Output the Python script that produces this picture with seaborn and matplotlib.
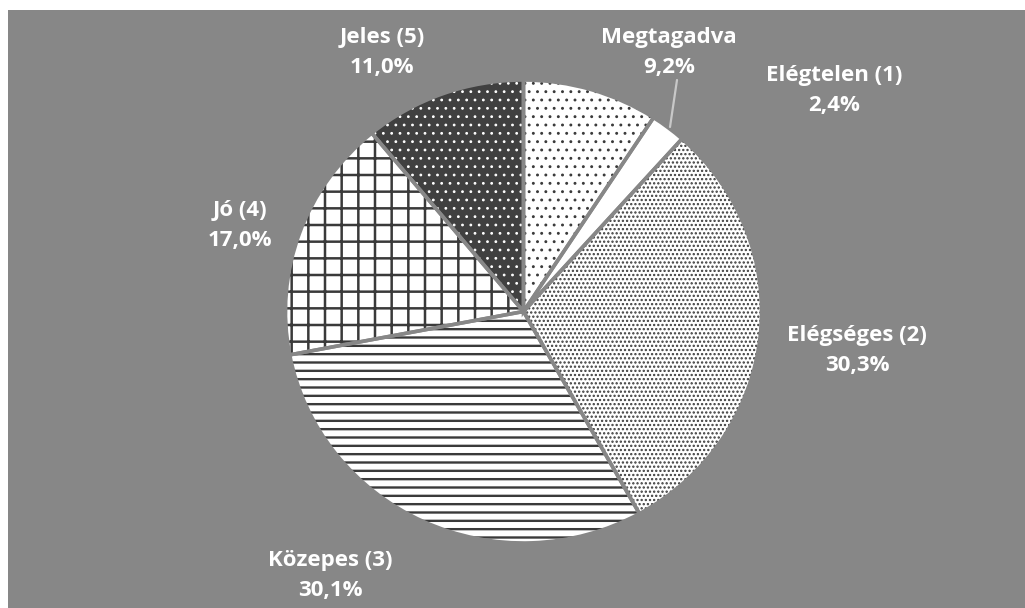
import matplotlib
matplotlib.use('Agg')
import matplotlib.pyplot as plt
import seaborn as sns

# adatok
categories = ['Megtagadva', 'Elégtelen (1)', 'Elégséges (2)', 'Közepes (3)', 'Jó (4)', 'Jeles (5)']
shares = [9.2, 2.4, 30.3, 30.1, 17.0, 11.0]

sns.set_style('white')
plt.rcParams['font.family'] = ['Open Sans', 'DejaVu Sans']
plt.rcParams['hatch.linewidth'] = 1.5

bg = '#878787'
faces = ['white', 'white', 'white', 'white', 'white', '#404040']
hatch_cols = ['#3a3a3a', 'white', '#3a3a3a', '#3a3a3a', '#3a3a3a', 'white']
hatches = ['..', '', '....', '--', '+', '..']
hatch_lw = [0.9, 1.0, 1.1, 1.7, 1.8, 0.8]

# cimkek helye pixelben (x kozep, elso sor alapvonala)
label_px = [(669, 43), (834, 81), (857, 341), (330, 566), (240, 216), (382, 43)]

W, H = 1025, 608
fig = plt.figure(figsize=(W / 100, H / 100), dpi=100, facecolor='white')
ax = fig.add_axes([8 / W, 0, (W - 8) / W, (H - 10) / H])

wedges, _ = ax.pie(shares, colors=faces, startangle=90, counterclock=False,
                   wedgeprops=dict(linewidth=0))
for w, h, c, lw in zip(wedges, hatches, hatch_cols, hatch_lw):
    w.set_hatch(h)
    w.set_edgecolor(c)
    w.set_linewidth(0)
    if hasattr(w, 'set_hatch_linewidth'):
        w.set_hatch_linewidth(lw)

# szegelyek a szeletek kozott
ax.pie(shares, colors=['none'] * len(shares), startangle=90, counterclock=False,
       wedgeprops=dict(linewidth=2.6, edgecolor=bg))

ax.set_frame_on(True)
ax.set_facecolor(bg)
for s in ax.spines.values():
    s.set_visible(False)
ax.set_aspect('auto')
cx, cy, rx, ry = 523.5, 311.5, 238.0, 231.5
ax.set_xlim(-(cx - 8) / rx, (W - cx) / rx)
ax.set_ylim(-(H - cy) / ry, (cy - 10) / ry)

for name, val, (px, py) in zip(categories, shares, label_px):
    pct = f'{val:.1f}'.replace('.', ',') + '%'
    fig.text(px / W, 1 - py / H, name, ha='center', va='baseline',
             color='white', fontsize=16, fontweight='bold')
    fig.text(px / W, 1 - (py + 30) / H, pct, ha='center', va='baseline',
             color='white', fontsize=16, fontweight='bold')

# vezetovonal a Megtagadva cimkehez
ax.plot([(677 - cx) / rx, (670 - cx) / rx], [(cy - 80) / ry, (cy - 127) / ry],
        color='#c8c8c8', linewidth=1.6)

fig.savefig('out.png', dpi=100, facecolor='white')
